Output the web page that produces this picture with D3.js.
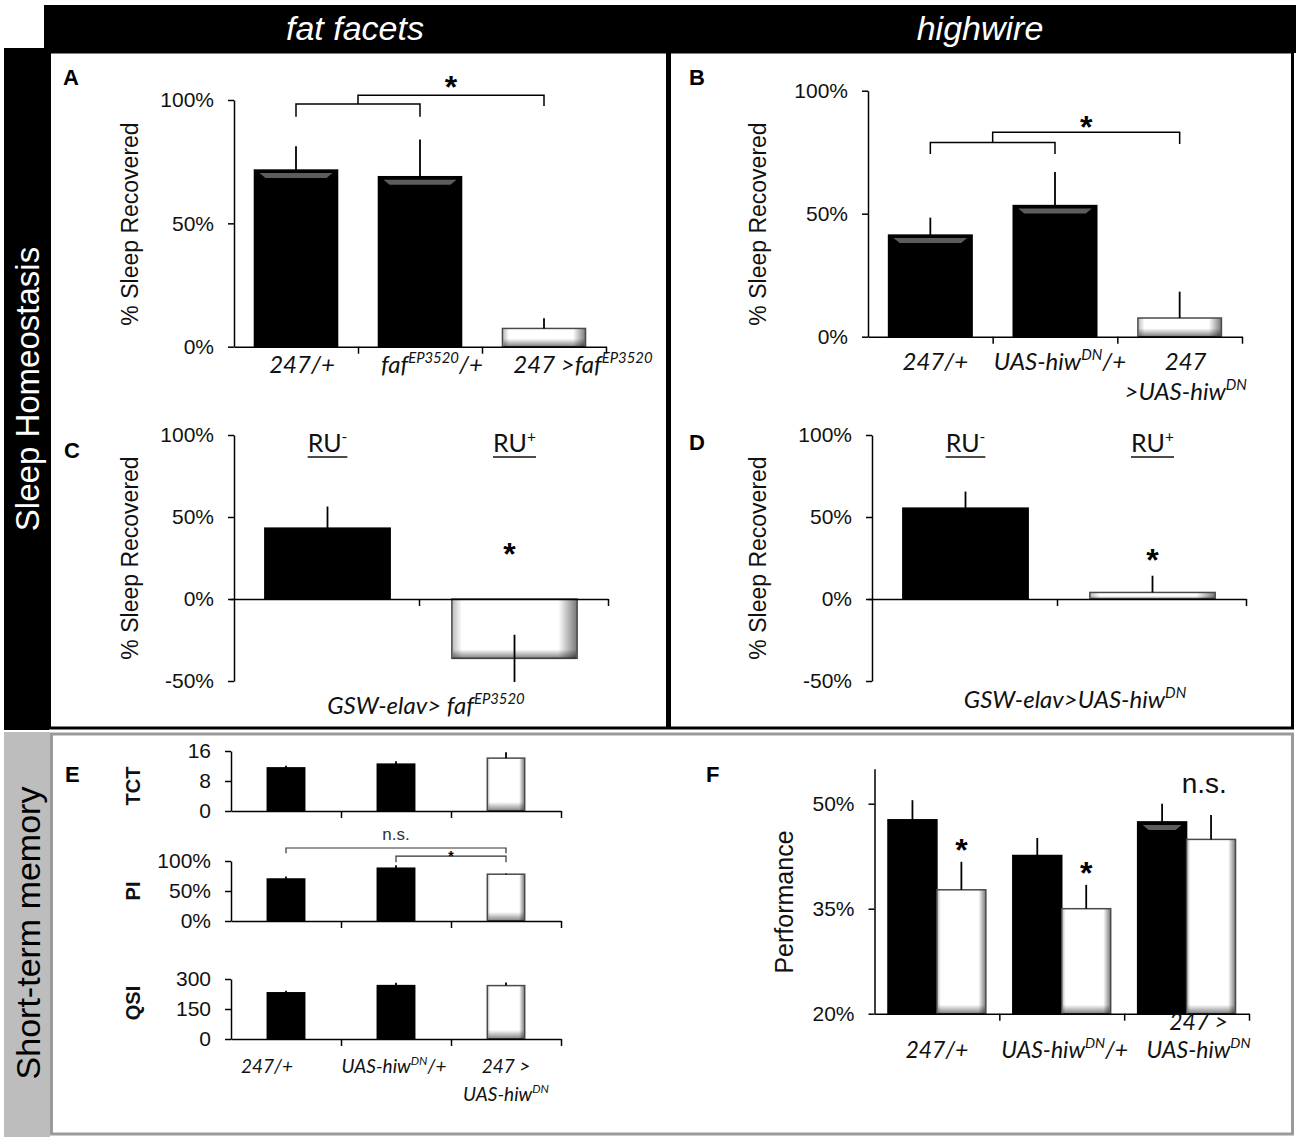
<!DOCTYPE html>
<html>
<head>
<meta charset="utf-8">
<script src="https://cdn.jsdelivr.net/npm/d3@7"></script>
<style>
  body { margin: 0; background: #fff; }
  svg { display: block; }
</style>
</head>
<body>
<svg width="1300" height="1142"></svg>
<script>
// ---- values ----
// A: fat facets, sleep homeostasis
const gtA = ["247/+", "faf^{EP3520}/+", "247 >faf^{EP3520}"];
const recA = [71.6, 68.9, 7.4];
const recAErr = [9.7, 15.1, 4.1];

// B: highwire, sleep homeostasis
const gtB = ["247/+", "UAS-hiw^{DN}/+", "247|>UAS-hiw^{DN}"];
const recB = [41.3, 53.3, 7.6];
const recBErr = [7.1, 13.7, 10.7];

// C / D: GeneSwitch, RU- vs RU+
const ruCats = ["RU^{-}", "RU^{+}"];
const recC = [43.2, -36.2];
const recCErr = [13.2, 14.4];
const recD = [55.4, 4.0];
const recDErr = [10.1, 10.2];

// E: short-term memory (TCT, PI, QSI)
const gtE = ["247/+", "UAS-hiw^{DN}/+", "247 >|UAS-hiw^{DN}"];
const tct = [11.5, 12.5, 14.1], tctErr = [0.6, 0.8, 1.6];
const pi = [70, 88, 78], piErr = [4, 5, 1];
const qsi = [231, 267, 267], qsiErr = [10, 14, 16];

// F: performance, black vs white bars
const gtF = ["247/+", "UAS-hiw^{DN}/+", "247 >|UAS-hiw^{DN}"];
const perfBlack = [47.7, 42.6, 47.4], perfBlackErr = [2.8, 2.5, 2.6];
const perfWhite = [37.7, 35.0, 44.9], perfWhiteErr = [4.0, 3.4, 3.5];

const pctTicks = [0, 50, 100];
const pctTicksNeg = [-50, 0, 50, 100];
const tctTicks = [0, 8, 16];
const qsiTicks = [0, 150, 300];
const perfTicks = [20, 35, 50];

// ---- drawing ----
const SANS = '"Liberation Sans", Arial, sans-serif';
const CAL = 'Lato, "Open Sans", sans-serif';
const pct = d => d + "%";

const svg = d3.select("svg");
const defs = svg.append("defs");

const gh = defs.append("linearGradient").attr("id", "whiteH");
[[0, "#b8b8b8"], [0.08, "#fff"], [0.85, "#fff"], [1, "#777"]]
  .forEach(([o, c]) => gh.append("stop").attr("offset", o).attr("stop-color", c));
const gv = defs.append("linearGradient").attr("id", "whiteV")
  .attr("x1", 0).attr("x2", 0).attr("y1", 0).attr("y2", 1);
[[0, 0], [1, 0.5]]
  .forEach(([o, a]) => gv.append("stop").attr("offset", o).attr("stop-color", "#000").attr("stop-opacity", a));

// frame
svg.append("rect").attr("x", 44).attr("y", 5).attr("width", 1252).attr("height", 48).attr("fill", "#000");
svg.append("rect").attr("x", 4).attr("y", 48).attr("width", 45).attr("height", 682).attr("fill", "#000");
svg.append("rect").attr("x", 49.5).attr("y", 52).attr("width", 1243).attr("height", 676)
  .attr("fill", "#fff").attr("stroke", "#000").attr("stroke-width", 3);
svg.append("rect").attr("x", 666).attr("y", 52).attr("width", 5).attr("height", 677).attr("fill", "#000");
svg.append("rect").attr("x", 4).attr("y", 732).attr("width", 46).attr("height", 405).attr("fill", "#bdbdbd");
svg.append("rect").attr("x", 51.5).attr("y", 734).attr("width", 1241).attr("height", 400)
  .attr("fill", "#fff").attr("stroke", "#9a9a9a").attr("stroke-width", 3);

svg.append("text").attr("x", 355).attr("y", 40).attr("text-anchor", "middle")
  .attr("font-family", SANS).attr("font-style", "italic").attr("font-size", 34).attr("fill", "#fff").text("fat facets");
svg.append("text").attr("x", 980).attr("y", 40).attr("text-anchor", "middle")
  .attr("font-family", SANS).attr("font-style", "italic").attr("font-size", 34).attr("fill", "#fff").text("highwire");

function vtext(cx, cy, str, size, color, weight) {
  svg.append("text").attr("transform", `translate(${cx},${cy}) rotate(-90)`)
    .attr("text-anchor", "middle").attr("dominant-baseline", "central")
    .attr("font-family", SANS).attr("font-size", size).attr("font-weight", weight || "normal")
    .attr("fill", color).text(str);
}
vtext(27, 389, "Sleep Homeostasis", 33, "#fff");
vtext(28, 933, "Short-term memory", 34, "#000");

// panel letters
[["A", 63, 85], ["B", 689, 85], ["C", 64, 458], ["D", 689, 450], ["E", 65, 782], ["F", 706, 782]]
  .forEach(([t, x, y]) => svg.append("text").attr("x", x).attr("y", y)
    .attr("font-family", SANS).attr("font-weight", "bold").attr("font-size", 22).text(t));

// text with ^{superscript} pieces
function rich(text, str, size) {
  const parts = str.split(/\^\{([^}]*)\}/);
  let prev = 0;
  parts.forEach((p, i) => {
    if (!p) return;
    const sup = i % 2 === 1;
    const dy = sup ? -size * 0.42 : 0;
    text.append("tspan").attr("dy", dy - prev).attr("font-size", sup ? size * 0.62 : size).text(p);
    prev = dy;
  });
}

function label(x, y, str, size, italic) {
  const t = svg.append("text").attr("x", x).attr("y", y).attr("text-anchor", "middle")
    .attr("font-family", CAL).attr("font-style", italic ? "italic" : "normal")
    .attr("font-size", size).attr("fill", "#111");
  rich(t, str, size);
  return t;
}

function star(x, cy, size) {
  svg.append("text").attr("x", x).attr("y", cy + size * 0.55).attr("text-anchor", "middle")
    .attr("font-family", SANS).attr("font-weight", "bold").attr("font-size", size).text("*");
}

function panel(o) {
  const g = svg.append("g");
  const n = o.cats.length;
  const y = d3.scaleLinear().domain(o.domain).range([o.yBot, o.yTop]);
  const x = d3.scaleBand().domain(d3.range(n)).range([o.x0, o.x1])
    .paddingInner(o.pad).paddingOuter(o.pad / 2);
  const sub = d3.scaleBand().domain(d3.range(o.series.length)).range([0, x.bandwidth()]);
  const base = y(Math.max(o.domain[0], 0));

  const bars = o.series.flatMap((s, si) => s.vals.map((v, i) => ({
    x: x(i) + sub(si), w: sub.bandwidth(),
    top: Math.min(y(v), base), h: Math.abs(y(v) - base),
    v, e: s.errs[i], style: s.styles[i]
  })));

  const bg = g.selectAll("g.bar").data(bars).join("g").attr("class", "bar");
  bg.append("rect")
    .attr("x", d => d.x).attr("y", d => d.top).attr("width", d => d.w).attr("height", d => d.h)
    .attr("fill", d => d.style === "white" ? "url(#whiteH)" : "#000")
    .attr("stroke", d => d.style === "white" ? "#4a4a4a" : "#000").attr("stroke-width", 1.5);
  // darker bevel along the bottom of white bars
  bg.filter(d => d.style === "white").append("rect")
    .attr("x", d => d.x + 1).attr("width", d => d.w - 2)
    .attr("y", d => d.top + d.h - Math.min(9, d.h * 0.45)).attr("height", d => Math.min(9, d.h * 0.45))
    .attr("fill", "url(#whiteV)");
  bg.filter(d => d.style === "bevel" && d.h > 14).append("path")
    .attr("d", d => `M${d.x + 5},${d.top + 3}H${d.x + d.w - 5}L${d.x + d.w - 11},${d.top + 8}H${d.x + 11}Z`)
    .attr("fill", "#5c5c5c");

  // whiskers, away from zero; both ways for negative bars
  g.selectAll("line.err").data(bars).join("line").attr("class", "err")
    .attr("x1", d => d.x + d.w / 2).attr("x2", d => d.x + d.w / 2)
    .attr("y1", d => y(d.v >= 0 ? d.v : d.v + d.e))
    .attr("y2", d => y(d.v >= 0 ? d.v + d.e : d.v - d.e))
    .attr("stroke", "#000").attr("stroke-width", 1.8);

  // axes
  const ya = g.append("g").attr("transform", `translate(${o.x0},0)`)
    .call(d3.axisLeft(y).tickValues(o.ticks).tickFormat(o.fmt).tickSize(6).tickSizeOuter(0).tickPadding(14));
  const xb = d3.scaleLinear().domain([0, n]).range([o.x0 - (o.xExt || 0), o.x1]);
  const xa = g.append("g").attr("transform", `translate(0,${base})`)
    .call(d3.axisBottom(xb).tickValues(d3.range(1, n + 1)).tickFormat("").tickSize(7).tickSizeOuter(0));
  [ya, xa].forEach(a => {
    a.attr("font-family", SANS).attr("font-size", o.tickSize || 21).attr("color", "#111");
    a.selectAll("path,line").attr("stroke", "#000").attr("stroke-width", 1.5);
  });

  // category labels
  if (o.labelY) {
    o.cats.forEach((c, i) => {
      const lines = c.split("|");
      const cx = x(i) + x.bandwidth() / 2 + (o.labelDx ? o.labelDx[i] : 0);
      const y0 = o.labelUp ? o.labelY - (lines.length - 1) * o.lineH : o.labelY;
      lines.forEach((ln, k) => label(cx, y0 + k * o.lineH, ln, o.labelSize, true));
    });
  }
  return { x, y, sub, g };
}

function bracket(p, i0, i1, low, high, low2, x0) {
  const xs = x0 !== undefined ? x0 : p.x(i0) + p.x.bandwidth() / 2;
  const xe = p.x(i1) + p.x.bandwidth() / 2;
  return `M${xs},${p.y(low)}V${p.y(high)}H${xe}V${p.y(low2 !== undefined ? low2 : low)}`;
}

function ytitle(cx, cy, str, size) { vtext(cx, cy, str, size, "#111"); }

// ---- A ----
const pA = panel({
  x0: 234, x1: 606, yTop: 100, yBot: 346.7, domain: [0, 100], ticks: pctTicks, fmt: pct,
  cats: gtA, pad: 0.33,
  series: [{ vals: recA, errs: recAErr, styles: ["bevel", "bevel", "white"] }],
  labelY: 373, labelSize: 24, lineH: 30, labelDx: [6, 12, 39]
});
ytitle(130, 224, "% Sleep Recovered", 23);
{
  const c = i => pA.x(i) + pA.x.bandwidth() / 2;
  const mid = (c(0) + c(1)) / 2;
  pA.g.append("path").attr("d", bracket(pA, 0, 1, 93.2, 98.4) + bracket(pA, null, 2, 98.4, 101.9, 97.6, mid))
    .attr("fill", "none").attr("stroke", "#000").attr("stroke-width", 1.5);
  star((mid + c(2)) / 2, pA.y(108), 32);
}

// ---- B ----
const pB = panel({
  x0: 868, x1: 1242, yTop: 90.7, yBot: 336.7, domain: [0, 100], ticks: pctTicks, fmt: pct,
  cats: gtB, pad: 0.33,
  series: [{ vals: recB, errs: recBErr, styles: ["bevel", "bevel", "white"] }],
  labelY: 370, labelSize: 24, lineH: 30, labelDx: [5, 5, 6]
});
ytitle(758, 224, "% Sleep Recovered", 23);
{
  const c = i => pB.x(i) + pB.x.bandwidth() / 2;
  const mid = (c(0) + c(1)) / 2;
  pB.g.append("path").attr("d", bracket(pB, 0, 1, 74.3, 78.9) + bracket(pB, null, 2, 78.9, 83.1, 78.3, mid))
    .attr("fill", "none").attr("stroke", "#000").attr("stroke-width", 1.5);
  star((mid + c(2)) / 2, pB.y(88), 32);
}

// ---- C / D ----
function ruPanel(x0, x1, vals, errs, starVal, starDx, bottomText, bottomY, bottomDx) {
  const p = panel({
    x0, x1, yTop: 435, yBot: 681, domain: [-50, 100], ticks: pctTicksNeg, fmt: pct,
    cats: ruCats, pad: 0.33, xExt: 4,
    series: [{ vals, errs, styles: ["black", "white"] }]
  });
  ruCats.forEach((c, i) => {
    const cx = p.x(i) + p.x.bandwidth() / 2;
    const t = label(cx, 452, c, 25, false);
    const w = t.node().getComputedTextLength();
    svg.append("line").attr("x1", cx - w / 2).attr("x2", cx + w / 2).attr("y1", 457).attr("y2", 457)
      .attr("stroke", "#111").attr("stroke-width", 1.5);
  });
  star(p.x(1) + p.x.bandwidth() / 2 + starDx, p.y(starVal), 32);
  label((x0 + x1) / 2 + bottomDx, bottomY, bottomText, 24, true);
  return p;
}
ruPanel(234, 608, recC, recCErr, 31.7, -5, "GSW-elav> faf^{EP3520}", 714, 5);
ytitle(130, 558, "% Sleep Recovered", 23);
ruPanel(872, 1246, recD, recDErr, 28, 0, "GSW-elav>UAS-hiw^{DN}", 708, 16);
ytitle(758, 558, "% Sleep Recovered", 23);

// ---- E ----
const eRows = [
  { name: "TCT", vals: tct, errs: tctErr, domain: [0, 16], ticks: tctTicks, fmt: d3.format("d"), yTop: 751, yBot: 811, ty: 786 },
  { name: "PI", vals: pi, errs: piErr, domain: [0, 100], ticks: pctTicks, fmt: pct, yTop: 861, yBot: 921, ty: 891 },
  { name: "QSI", vals: qsi, errs: qsiErr, domain: [0, 300], ticks: qsiTicks, fmt: d3.format("d"), yTop: 979, yBot: 1039, ty: 1003 }
];
const pE = eRows.map((r, k) => {
  const p = panel({
    x0: 231, x1: 561, yTop: r.yTop, yBot: r.yBot, domain: r.domain, ticks: r.ticks, fmt: r.fmt,
    cats: gtE, pad: 0.66,
    series: [{ vals: r.vals, errs: r.errs, styles: ["black", "black", "white"] }],
    labelY: k === 2 ? 1073 : null, labelSize: 19, lineH: 28, labelDx: [-19, -2, 0]
  });
  vtext(133, r.ty, r.name, 20, "#111", "bold");
  return p;
});
{
  const p = pE[1];
  const c = i => p.x(i) + p.x.bandwidth() / 2;
  p.g.append("path").attr("d", bracket(p, 0, 2, 113, 121.7) + bracket(p, 1, 2, 98, 108))
    .attr("fill", "none").attr("stroke", "#333").attr("stroke-width", 1.2);
  svg.append("text").attr("x", (c(0) + c(2)) / 2).attr("y", p.y(135)).attr("text-anchor", "middle")
    .attr("font-family", SANS).attr("font-size", 17).attr("fill", "#333").text("n.s.");
  star((c(1) + c(2)) / 2, p.y(113), 14);
}

// ---- F ----
const pF = panel({
  x0: 874.5, x1: 1249, yTop: 768.7, yBot: 1013.7, domain: [20, 55], ticks: perfTicks, fmt: pct,
  cats: gtF, pad: 0.216,
  series: [
    { vals: perfBlack, errs: perfBlackErr, styles: ["black", "black", "bevel"] },
    { vals: perfWhite, errs: perfWhiteErr, styles: ["white", "white", "white"] }
  ],
  labelY: 1058, labelSize: 23, lineH: 28, labelUp: true, labelDx: [0, 3, 12]
});
ytitle(784, 902, "Performance", 25);
[0, 1].forEach(i => {
  const cx = pF.x(i) + pF.sub(1) + pF.sub.bandwidth() / 2;
  star(cx, pF.y(perfWhite[i] + perfWhiteErr[i] + 2.7), 32);
});
svg.append("text").attr("x", pF.x(2) + pF.x.bandwidth() * 0.68).attr("y", pF.y(51.5))
  .attr("text-anchor", "middle").attr("font-family", SANS).attr("font-size", 28).attr("fill", "#111").text("n.s.");
</script>
</body>
</html>
